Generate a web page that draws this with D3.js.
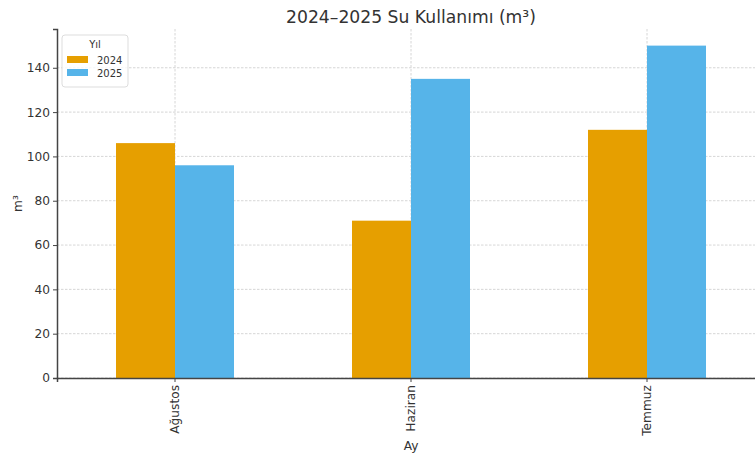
<!DOCTYPE html>
<html>
<head>
<meta charset="utf-8">
<script src="https://cdn.jsdelivr.net/npm/d3@7"></script>
<style>
  body { margin: 0; background: #fff; overflow: hidden; }
  text { font-family: "DejaVu Sans", sans-serif; }
</style>
</head>
<body>
<svg id="chart"></svg>
<script>
const months = ["Ağustos", "Haziran", "Temmuz"];
const years = ["2024", "2025"];
const values2024 = [106, 71, 112];
const values2025 = [96, 135, 150];
const yTicks = [0, 20, 40, 60, 80, 100, 120, 140];
const colors = ["#E69F00", "#56B4E9"];

const width = 755;
const height = 460;
const plotLeft = 57;
const plotRight = 765;
const plotTop = 29;
const plotBottom = 378;

const svg = d3.select("#chart").attr("width", width).attr("height", height);

const series = [values2024, values2025];

let xScale = d3.scaleBand().domain(months).range([plotLeft, plotRight]).paddingInner(0).paddingOuter(0);
let groupScale = d3.scaleBand().domain(years).range([xScale.bandwidth() / 4, xScale.bandwidth() * 3 / 4]);
let yScale = d3.scaleLinear().domain([0, 157.5]).range([plotBottom, plotTop]);

// grid
svg.append("g")
  .selectAll("line")
  .data(yTicks)
  .enter()
  .append("line")
  .attr("x1", plotLeft).attr("x2", plotRight)
  .attr("y1", (d) => yScale(d)).attr("y2", (d) => yScale(d))
  .attr("stroke", "#cccccc").attr("stroke-width", 0.8).attr("stroke-dasharray", "2.5,1.5");

svg.append("g")
  .selectAll("line")
  .data(months)
  .enter()
  .append("line")
  .attr("x1", (d) => xScale(d) + xScale.bandwidth() / 2)
  .attr("x2", (d) => xScale(d) + xScale.bandwidth() / 2)
  .attr("y1", plotTop).attr("y2", plotBottom)
  .attr("stroke", "#cccccc").attr("stroke-width", 0.8).attr("stroke-dasharray", "2.5,1.5");

// bars
years.forEach((yr, i) => {
  svg.append("g")
    .selectAll("rect")
    .data(series[i])
    .enter()
    .append("rect")
    .attr("fill", colors[i])
    .attr("x", (d, j) => xScale(months[j]) + groupScale(yr))
    .attr("width", groupScale.bandwidth())
    .attr("y", (d) => yScale(d))
    .attr("height", (d) => plotBottom - yScale(d));
});

// axes
let xAxis = d3.axisBottom(xScale).tickSizeOuter(0).tickSize(4).tickPadding(3);
let yAxis = d3.axisLeft(yScale).tickValues(yTicks).tickSizeOuter(0).tickSize(4).tickPadding(3);

const gx = svg.append("g")
  .attr("transform", "translate(0," + plotBottom + ")")
  .call(xAxis);
gx.selectAll("text")
  .attr("transform", "rotate(-90)")
  .attr("text-anchor", "end")
  .attr("x", -7)
  .attr("y", 0)
  .attr("dy", "0.35em")
  .attr("font-size", 12.2)
  .attr("fill", "#333");

const gy = svg.append("g")
  .attr("transform", "translate(" + plotLeft + ",0)")
  .call(yAxis);
gy.selectAll("text").attr("font-size", 12.2).attr("fill", "#333");

svg.selectAll(".domain").attr("stroke", "#444").attr("stroke-width", 1.5);
svg.selectAll(".tick line").attr("stroke", "#444");

// titles
svg.append("text")
  .attr("x", (plotLeft + plotRight) / 2).attr("y", 23)
  .attr("text-anchor", "middle")
  .attr("font-size", 17.2)
  .attr("fill", "#333")
  .text("2024–2025 Su Kullanımı (m³)");

svg.append("text")
  .attr("x", (plotLeft + plotRight) / 2).attr("y", 450)
  .attr("text-anchor", "middle")
  .attr("font-size", 12.2)
  .attr("fill", "#333")
  .text("Ay");

svg.append("text")
  .attr("transform", "translate(22," + (plotTop + plotBottom) / 2 + ") rotate(-90)")
  .attr("text-anchor", "middle")
  .attr("font-size", 12.2)
  .attr("fill", "#333")
  .text("m³");

// legend
const lg = svg.append("g").attr("transform", "translate(62,35)");
lg.append("rect")
  .attr("width", 66).attr("height", 52)
  .attr("rx", 3)
  .attr("fill", "#fff").attr("fill-opacity", 0.8)
  .attr("stroke", "#dddddd");
lg.append("text")
  .attr("x", 33).attr("y", 13)
  .attr("text-anchor", "middle")
  .attr("font-size", 10)
  .attr("fill", "#333")
  .text("Yıl");
years.forEach((yr, i) => {
  lg.append("rect")
    .attr("x", 5).attr("y", 21 + i * 13)
    .attr("width", 21).attr("height", 7)
    .attr("fill", colors[i]);
  lg.append("text")
    .attr("x", 35).attr("y", 28.5 + i * 13)
    .attr("font-size", 10)
    .attr("fill", "#333")
    .text(yr);
});
</script>
</body>
</html>
